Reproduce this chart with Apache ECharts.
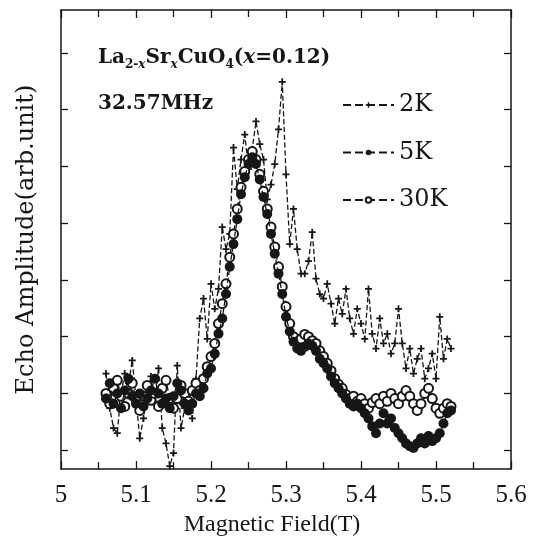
<!DOCTYPE html>
<html>
<head>
<meta charset="utf-8">
<script src="https://cdn.jsdelivr.net/npm/echarts@6/dist/echarts.min.js"></script>
<style>
html,body{margin:0;padding:0;background:#fff;}
#chart{width:543px;height:542px;}
</style>
</head>
<body>
<div id="chart"></div>
<script>
// Magnetic field (T)
var fieldT = [5.060,5.065,5.070,5.075,5.080,5.085,5.090,5.095,5.100,5.105,
5.110,5.115,5.120,5.125,5.130,5.135,5.140,5.145,5.150,5.155,
5.160,5.165,5.170,5.175,5.180,5.185,5.190,5.195,5.200,5.205,
5.210,5.215,5.220,5.225,5.230,5.235,5.240,5.245,5.250,5.255,
5.260,5.265,5.270,5.275,5.280,5.285,5.290,5.295,5.300,5.305,
5.310,5.315,5.320,5.325,5.330,5.335,5.340,5.345,5.350,5.355,
5.360,5.365,5.370,5.375,5.380,5.385,5.390,5.395,5.400,5.405,
5.410,5.415,5.420,5.425,5.430,5.435,5.440,5.445,5.450,5.455,
5.460,5.465,5.470,5.475,5.480,5.485,5.490,5.495,5.500,5.505,
5.510,5.515,5.520];

// Echo amplitude (arb. unit)
var amp2K = [1.35,0.74,0.39,0.30,1.00,1.35,1.18,1.58,0.91,0.21,
0.56,1.00,1.30,0.82,1.44,0.39,0.12,-0.28,-0.05,1.49,
0.39,0.74,1.00,0.56,1.26,2.32,2.67,1.96,2.93,2.49,
2.84,3.93,3.54,3.81,5.33,4.60,5.12,5.56,4.95,5.30,
5.79,5.39,5.12,4.42,4.68,5.04,5.65,6.49,4.86,3.63,
4.25,3.54,3.11,3.11,3.33,3.84,3.02,2.75,2.67,2.93,
2.58,2.23,2.67,2.40,2.84,2.32,2.05,2.49,2.23,1.96,
2.84,2.05,1.79,2.32,1.88,2.05,1.70,1.88,2.49,1.88,
1.44,1.79,1.35,1.61,1.79,1.26,1.44,1.70,1.26,2.35,
1.61,1.96,1.79];

var amp5K = [0.91,1.18,0.82,1.00,0.74,1.05,1.26,0.95,0.82,1.00,
0.77,0.91,1.05,1.26,1.00,0.82,0.91,0.74,0.95,1.18,
1.05,0.82,0.70,0.82,1.00,0.95,1.09,1.35,1.44,1.70,
2.05,2.32,2.75,3.23,3.63,4.07,4.51,4.81,5.04,5.16,
5.04,4.77,4.46,4.16,3.81,3.46,3.11,2.75,2.35,2.09,
1.91,1.79,1.75,1.82,1.88,1.84,1.75,1.61,1.53,1.44,
1.30,1.18,1.09,1.00,0.91,0.82,0.77,0.82,0.74,0.65,
0.56,0.42,0.30,0.47,0.65,0.47,0.56,0.39,0.30,0.21,
0.12,0.07,0.04,0.12,0.21,0.12,0.25,0.16,0.21,0.30,
0.47,0.65,0.70];

var amp30K = [1.00,0.82,1.09,1.23,0.95,0.77,1.00,1.18,0.91,0.70,
0.95,1.14,0.88,1.00,0.77,1.09,1.23,0.91,0.74,0.91,
1.14,1.00,0.86,1.05,1.18,1.05,1.26,1.47,1.65,1.88,
2.23,2.58,2.93,3.40,3.81,4.25,4.63,4.91,5.12,5.26,
5.12,4.86,4.56,4.25,3.93,3.58,3.23,2.88,2.53,2.23,
2.00,1.91,1.96,2.04,2.00,1.93,1.88,1.75,1.65,1.53,
1.40,1.26,1.16,1.09,0.98,0.91,0.95,0.86,0.91,0.82,
0.74,0.84,0.91,0.82,0.95,0.86,1.00,0.91,0.82,0.95,
1.05,0.95,0.82,0.70,0.82,1.00,1.09,0.91,0.74,0.65,
0.74,0.82,0.77];

var seriesNames = ['2K','5K','30K'];
var xTicks = [5, 5.1, 5.2, 5.3, 5.4, 5.5, 5.6];
var yTickValues = [0,1,2,3,4,5,6,7];

function pairs(ys){ return fieldT.map(function(x,i){ return [x, ys[i]]; }); }

var ink = '#161616';
var chart = echarts.init(document.getElementById('chart'), null, {renderer:'canvas'});
var axisCommon = {
  type:'value', min:5, max:5.6, interval:0.1,
  axisLine:{show:true, onZero:false, lineStyle:{color:ink, width:1.5}},
  axisTick:{show:true, inside:true, length:8, lineStyle:{color:ink, width:1.3}},
  minorTick:{show:true, splitNumber:2, length:7, lineStyle:{color:ink, width:1.3}},
  splitLine:{show:false}
};
var yCommon = {
  type:'value', min:-0.333, max:7.754,
  axisLine:{show:true, onZero:false, lineStyle:{color:ink, width:1.5}},
  axisTick:{show:true, inside:true, length:7, customValues: yTickValues, lineStyle:{color:ink, width:1.3}},
  axisLabel:{show:false},
  splitLine:{show:false}
};
var plusPath = 'path://M3,0H5V3H8V5H5V8H3V5H0V3H3Z';

chart.setOption({
  animation:false,
  backgroundColor:'#fff',
  grid:{left:61, right:32, top:10, bottom:71},
  xAxis:[
    Object.assign({}, axisCommon, {
      position:'bottom',
      name:'Magnetic Field(T)', nameLocation:'middle', nameGap:41,
      nameTextStyle:{fontFamily:'Liberation Serif', fontSize:24, color:ink, padding:[0,28,0,0]},
      axisLabel:{show:true, margin:14, fontFamily:'Liberation Serif', fontSize:25, color:ink,
        customValues: xTicks, formatter:function(v){ return String(Math.round(v*10)/10); }}
    }),
    Object.assign({}, axisCommon, {position:'top', axisLabel:{show:false}})
  ],
  yAxis:[
    Object.assign({}, yCommon, {
      position:'left',
      name:'Echo Amplitude(arb.unit)', nameLocation:'middle', nameGap:22, nameRotate:90,
      nameTextStyle:{fontFamily:'DejaVu Serif', fontSize:24, color:ink}
    }),
    Object.assign({}, yCommon, {position:'right'})
  ],
  legend:{
    orient:'vertical', left:342, top:93, padding:0,
    itemWidth:51, itemHeight:7, itemGap:23.5,
    textStyle:{fontFamily:'DejaVu Serif', fontSize:24, color:ink},
    data:seriesNames
  },
  graphic:[
    {type:'text', x:98, y:58, style:{
      text:'{m|La}{s|2-}{si|x}{m|Sr}{si|x}{m|CuO}{s|4}{m|(}{mi|x}{m|=0.12)}',
      verticalAlign:'middle', fill:ink,
      rich:{
        m:{fontFamily:'DejaVu Serif', fontWeight:'bold', fontSize:20, lineHeight:26, verticalAlign:'middle', fill:ink},
        mi:{fontFamily:'DejaVu Serif', fontWeight:'bold', fontStyle:'italic', fontSize:20, lineHeight:26, verticalAlign:'middle', fill:ink},
        s:{fontFamily:'DejaVu Serif', fontWeight:'bold', fontSize:12, lineHeight:12, verticalAlign:'bottom', fill:ink},
        si:{fontFamily:'DejaVu Serif', fontWeight:'bold', fontStyle:'italic', fontSize:12, lineHeight:12, verticalAlign:'bottom', fill:ink}
      }
    }},
    {type:'text', x:98, y:104, style:{
      text:'32.57MHz', fontFamily:'DejaVu Serif', fontWeight:'bold', fontSize:20,
      verticalAlign:'middle', fill:ink
    }}
  ],
  series:[
    {name:'2K', type:'line', data:pairs(amp2K), symbol:plusPath, symbolSize:7,
      lineStyle:{type:'dashed', width:1.3, color:ink}, itemStyle:{color:ink}, z:2},
    {name:'30K', type:'line', data:pairs(amp30K), symbol:'emptyCircle', symbolSize:9,
      lineStyle:{type:'dashed', width:1.3, color:ink}, itemStyle:{color:ink, borderColor:ink, borderWidth:2.2}, z:3},
    {name:'5K', type:'line', data:pairs(amp5K), symbol:'circle', symbolSize:10,
      lineStyle:{type:'dashed', width:1.3, color:ink}, itemStyle:{color:ink}, z:4}
  ]
});
</script>
</body>
</html>
